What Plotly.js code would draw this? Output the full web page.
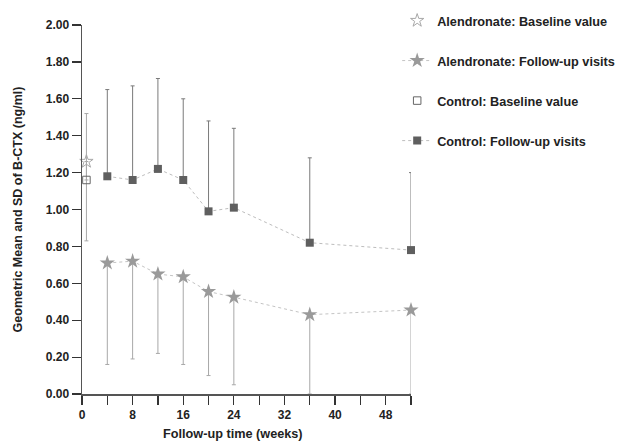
<!DOCTYPE html>
<html>
<head>
<meta charset="utf-8">
<script src="https://cdn.plot.ly/plotly-3.0.1.min.js"></script>
<style>html,body{margin:0;padding:0;background:#fff;}#chart{width:622px;height:442px;}</style>
</head>
<body>
<div id="chart"></div>
<script>
// Data
var weeks = [4, 8, 12, 16, 20, 24, 36, 52];
var baselineWeek = [0.7];

var alnBaseline = [1.26];
var alnBaselineLow = [0.83];
var alnFollow = [0.71, 0.72, 0.65, 0.635, 0.555, 0.525, 0.43, 0.455];
var alnFollowLow = [0.16, 0.19, 0.22, 0.16, 0.10, 0.05, 0.0, 0.0];

var ctlBaseline = [1.16];
var ctlBaselineHigh = [1.52];
var ctlFollow = [1.18, 1.16, 1.22, 1.16, 0.99, 1.01, 0.82, 0.78];
var ctlFollowHigh = [1.65, 1.67, 1.71, 1.60, 1.48, 1.44, 1.28, 1.20];

var xTickVals = [0, 4, 8, 12, 16, 20, 24, 28, 32, 36, 40, 44, 48, 52];
var xTickText = ['0', '', '8', '', '16', '', '24', '', '32', '', '40', '', '48', ''];
var yTickVals = [0, 0.2, 0.4, 0.6, 0.8, 1.0, 1.2, 1.4, 1.6, 1.8, 2.0];

var xTitle = 'Follow-up time (weeks)';
var yTitle = 'Geometric Mean and SD of B-CTX (ng/ml)';

function diff(a, b) { return a.map(function (v, i) { return v - b[i]; }); }
function zeros(n) { var r = []; for (var i = 0; i < n; i++) r.push(0); return r; }

var FONT = 'Liberation Sans, Arial, sans-serif';

var traces = [
  {
    name: 'Alendronate: Baseline value',
    x: baselineWeek, y: alnBaseline,
    mode: 'markers', type: 'scatter', legendgroup: 'a',
    marker: {symbol: 'star-open', size: 10, color: '#a8a8a8', line: {width: 1, color: '#a8a8a8'}},
    error_y: {type: 'data', symmetric: false, array: zeros(1), arrayminus: diff(alnBaseline, alnBaselineLow),
      color: '#a8a8a8', thickness: 1, width: 2},
    cliponaxis: false
  },
  {
    name: 'Alendronate: Follow-up visits',
    x: weeks, y: alnFollow,
    mode: 'lines+markers', type: 'scatter', legendgroup: 'b',
    line: {color: '#c4c4c4', width: 1, dash: 'dot'},
    marker: {symbol: 'star', size: 11.5, color: '#9a9a9a'},
    error_y: {type: 'data', symmetric: false, array: zeros(weeks.length), arrayminus: diff(alnFollow, alnFollowLow),
      color: '#a8a8a8', thickness: 1, width: 2},
    cliponaxis: false
  },
  {
    name: 'Control: Baseline value',
    x: baselineWeek, y: ctlBaseline,
    mode: 'markers', type: 'scatter', legendgroup: 'c',
    marker: {symbol: 'square-open', size: 7.5, color: '#666666', line: {width: 1, color: '#666666'}},
    error_y: {type: 'data', symmetric: false, array: diff(ctlBaselineHigh, ctlBaseline), arrayminus: zeros(1),
      color: '#a8a8a8', thickness: 1, width: 2},
    cliponaxis: false
  },
  {
    name: 'Control: Follow-up visits',
    x: weeks, y: ctlFollow,
    mode: 'lines+markers', type: 'scatter', legendgroup: 'd',
    line: {color: '#bdbdbd', width: 1, dash: 'dot'},
    marker: {symbol: 'square', size: 8, color: '#5f5f5f'},
    error_y: {type: 'data', symmetric: false, array: diff(ctlFollowHigh, ctlFollow), arrayminus: zeros(weeks.length),
      color: '#7a7a7a', thickness: 1, width: 2},
    cliponaxis: false
  }
];

var layout = {
  width: 622, height: 442,
  margin: {l: 82, r: 211, t: 25, b: 48, autoexpand: false},
  paper_bgcolor: '#fff', plot_bgcolor: '#fff',
  font: {family: FONT, size: 12, color: '#222'},
  showlegend: true,
  legend: {
    x: 0.958, xanchor: 'left', y: 1.052, yanchor: 'top',
    font: {family: FONT, size: 12.7, color: '#222', weight: 'bold'},
    tracegroupgap: 20.5, bgcolor: 'rgba(0,0,0,0)'
  },
  xaxis: {
    range: [0, 52], tickmode: 'array', tickvals: xTickVals, ticktext: xTickText,
    showgrid: false, zeroline: false, showline: true, linecolor: '#555', linewidth: 1.5,
    ticks: 'outside', ticklen: 9, tickwidth: 1.2, tickcolor: '#333',
    tickfont: {family: FONT, size: 12, color: '#222', weight: 'bold'}
  },
  yaxis: {
    range: [0, 2], tickmode: 'array', tickvals: yTickVals, tickformat: '.2f',
    showgrid: false, zeroline: false, showline: true, linecolor: '#555', linewidth: 1.5,
    ticks: 'outside', ticklen: 9, tickwidth: 1.2, tickcolor: '#333',
    tickfont: {family: FONT, size: 12, color: '#222', weight: 'bold'},
    title: {text: yTitle, font: {family: FONT, size: 12.5, color: '#222', weight: 'bold'}, standoff: 20}
  },
  annotations: [{
    text: xTitle, xref: 'paper', yref: 'paper', x: 0.459, y: -0.108,
    xanchor: 'center', yanchor: 'middle', showarrow: false,
    font: {family: FONT, size: 12.7, color: '#222', weight: 'bold'}
  }]
};

Plotly.newPlot('chart', traces, layout, {displayModeBar: false, staticPlot: true});
</script>
</body>
</html>
